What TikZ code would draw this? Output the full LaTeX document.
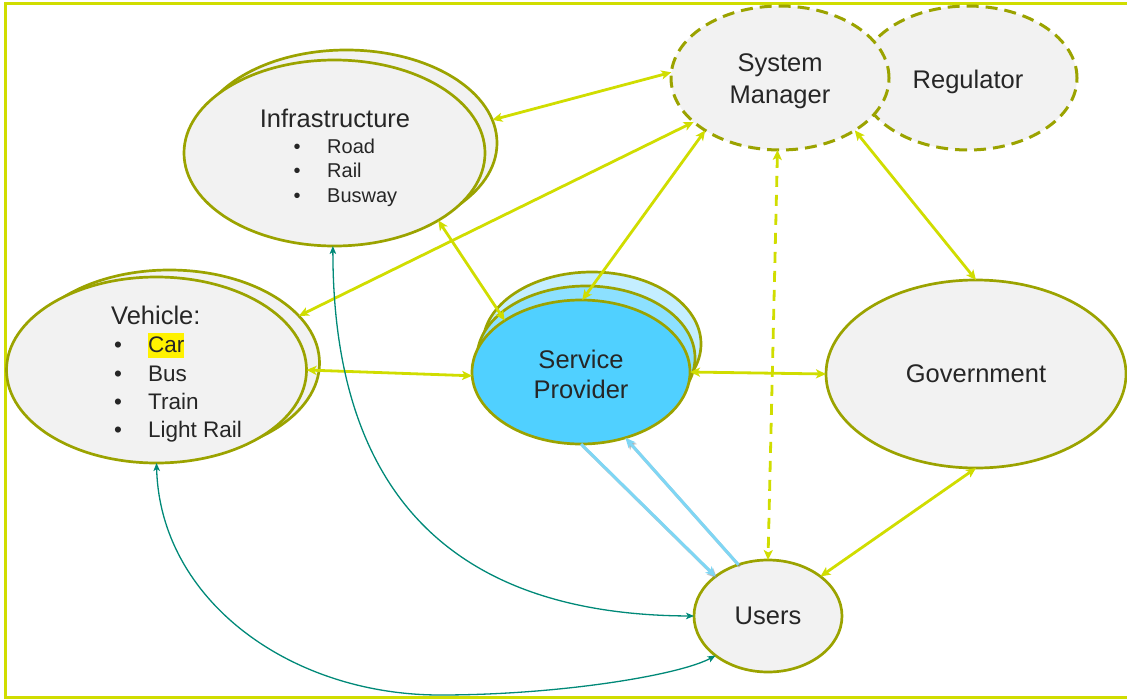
\documentclass[tikz,border=0pt]{standalone}
\usepackage{fontspec}
\setmainfont{Liberation Sans}
\usetikzlibrary{arrows.meta,shapes.geometric}
\definecolor{olivec}{RGB}{155,163,0}
\definecolor{limec}{RGB}{208,221,0}
\definecolor{fillg}{RGB}{242,242,242}
\definecolor{tealc}{RGB}{0,137,120}
\definecolor{spone}{RGB}{80,208,255}
\definecolor{sptwo}{RGB}{140,224,255}
\definecolor{spthree}{RGB}{196,238,255}
\definecolor{bluec}{RGB}{127,214,244}
\definecolor{txtc}{RGB}{38,38,38}
\begin{document}
\begin{tikzpicture}[x=1pt,y=-1pt,
  ell/.style={ellipse, draw=olivec, line width=2.7pt, fill=fillg, inner sep=0pt, outer sep=0pt,
    text=txtc, align=center, font=\fontsize{25.5}{31.5}\selectfont},
  dell/.style={ell, line width=3pt, dash pattern=on 12pt off 7pt},
  lbl/.style={text=txtc, inner sep=0pt, font=\fontsize{25.5}{31}\selectfont},
  inlbl/.style={text=txtc, inner sep=0pt, align=center},
  itemI/.style={text=txtc, inner sep=0pt, font=\fontsize{20}{24}\selectfont},
  itemV/.style={text=txtc, inner sep=0pt, font=\fontsize{22.5}{28}\selectfont},
  conn/.style={draw=limec, line width=2.8pt,
    {Stealth[length=10pt,width=9pt,inset=2.5pt]}-{Stealth[length=10pt,width=9pt,inset=2.5pt]}},
  dconn/.style={conn, dash pattern=on 11pt off 8pt},
  tealarr/.style={draw=tealc, line width=1.3pt,
    {Stealth[length=8pt,width=6.5pt,inset=2pt]}-{Stealth[length=8pt,width=6.5pt,inset=2pt]}},
  bluearr/.style={draw=bluec, line width=3pt, -{Stealth[length=10pt,width=9pt,inset=2.5pt]}},
  blueshadow/.style={draw=black!45, opacity=0.5, line width=3pt, -{Stealth[length=10pt,width=9pt,inset=2.5pt]}}
]
\useasboundingbox (0,0) rectangle (1127,699);
% frame
\draw[limec, line width=3pt] (1140,3.5) -- (5.5,3.5) -- (5.5,697) -- (1140,697);

% Infrastructure
\node[ell, minimum width=301pt, minimum height=186pt] (infraB) at (346.5,143) {};
\node[ell, minimum width=301pt, minimum height=186pt] (infra) at (334.5,153) {};
\node[lbl, anchor=base] (infraT) at (335,127) {Infrastructure};
\node[itemI, anchor=base] (ib1) at (297,153) {•};
\node[itemI, anchor=base] (ib2) at (297,177) {•};
\node[itemI, anchor=base] (ib3) at (297,202) {•};
\node[itemI, anchor=base west] (ii1) at (327,153) {Road};
\node[itemI, anchor=base west] (ii2) at (327,177) {Rail};
\node[itemI, anchor=base west] (ii3) at (327,202) {Busway};

% Vehicle
\node[ell, minimum width=300pt, minimum height=186pt] (vehB) at (169.5,363) {};
\node[ell, minimum width=300pt, minimum height=186pt] (veh) at (156.5,370) {};
\node[lbl, anchor=base west] (vehT) at (111,324) {Vehicle:};
\node[itemV, anchor=base] (vb1) at (118,352) {•};
\node[itemV, anchor=base] (vb2) at (118,381) {•};
\node[itemV, anchor=base] (vb3) at (118,409) {•};
\node[itemV, anchor=base] (vb4) at (118,437) {•};
\node[itemV, anchor=base west, fill=yellow, text height=19pt, text depth=6pt] (vi1) at (148,352) {Car};
\node[itemV, anchor=base west] (vi2) at (148,381) {Bus};
\node[itemV, anchor=base west] (vi3) at (148,409) {Train};
\node[itemV, anchor=base west] (vi4) at (148,437) {Light Rail};

% Regulator and System Manager
\node[dell, minimum width=218pt, minimum height=144pt,
  label={[inlbl, font=\fontsize{25.5}{31}\selectfont, yshift=-4pt]center:Regulator}] (reg) at (968,78) {};
\node[dell, minimum width=218pt, minimum height=144pt,
  label={[inlbl, font=\fontsize{25.5}{32}\selectfont, yshift=-3.5pt]center:System\\Manager}] (sm) at (780,78) {};

% Service Provider stack
\node[ell, fill=spthree, minimum width=218pt, minimum height=144pt] (spB) at (592,344) {};
\node[ell, fill=sptwo, minimum width=218pt, minimum height=144pt] (spM) at (586,358) {};
\node[ell, fill=spone, minimum width=218pt, minimum height=144pt,
  label={[inlbl, font=\fontsize{25.5}{30}\selectfont, yshift=-2.5pt]center:Service\\Provider}] (sp) at (581,372) {};

% Government, Users
\node[ell, minimum width=300pt, minimum height=188pt] (gov) at (976,374) {Government};
\node[ell, minimum width=148pt, minimum height=112pt] (users) at (768,616) {Users};

% connectors
\draw[conn] (infraB.9) -- (sm.177);
\draw[conn] (vehB.20) -- (sm.207);
\draw[conn] (infra.-33) -- (sp.146);
\draw[conn] (sp.89) -- (sm.215);
\draw[conn] (sm.-35) -- (gov.90);
\draw[dconn] (sm.-92) -- (users.90);
\draw[conn] (veh.0) -- (sp.182);
\draw[conn] (sp.0) -- (gov.180);
\draw[conn] (gov.-90) -- (users.37);

% blue arrows
\draw[blueshadow, transform canvas={shift={(1.5pt,-1.8pt)}}] (sp.-90) -- (users.143);
\draw[blueshadow, transform canvas={shift={(1.5pt,-1.8pt)}}] (users.120) -- (sp.-56);
\draw[bluearr] (sp.-90) -- (users.143);
\draw[bluearr] (users.120) -- (sp.-56);

% teal curves
\draw[tealarr] (infra.-91) .. controls (333,520) and (480,615) .. (users.180);
\draw[tealarr] (veh.-90) .. controls (160,600) and (290,695) .. (440,695)
   .. controls (560,695) and (680,675) .. (users.217);
\end{tikzpicture}
\end{document}
